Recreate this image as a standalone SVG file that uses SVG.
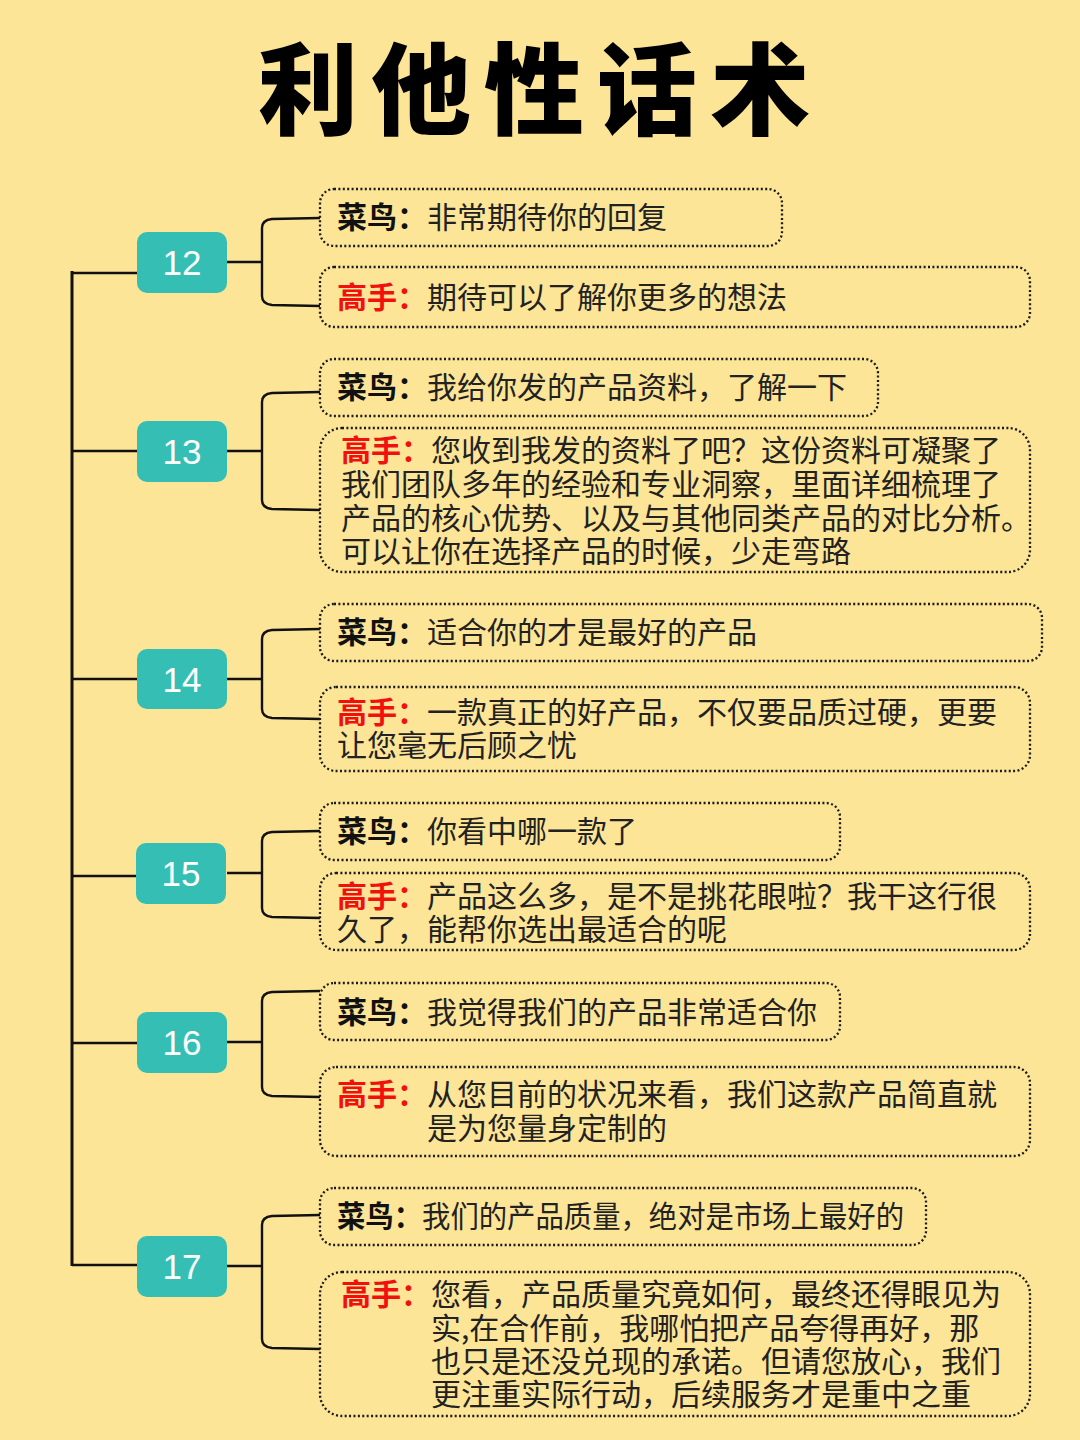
<svg xmlns="http://www.w3.org/2000/svg" width="1080" height="1440" viewBox="0 0 1080 1440">
<style>
.bg{fill:#FCE597}
.title{font-family:"Noto Sans CJK SC",sans-serif;font-size:100px;font-weight:900;fill:#000;letter-spacing:13px}
.num{fill:#35BFB4}
.numt{font-family:"Liberation Sans",Arial,sans-serif;font-size:35px;fill:#fff;text-anchor:middle}
.card{fill:none;stroke:#1a1a1a;stroke-width:2.3;stroke-dasharray:2 2.4;}
.txt{font-family:"Noto Sans CJK SC",sans-serif;font-size:30px;fill:#222}
.k{font-weight:700;fill:#111}
.r{font-weight:700;fill:#F01010}
.line{fill:none;stroke:#111;stroke-width:2.4}
.main{fill:none;stroke:#111;stroke-width:3}
</style>
<rect class="bg" x="0" y="0" width="1080" height="1440"/>
<text class="title" x="258" y="127">利他性话术</text>

<g id="connectors">
<path class="main" d="M72,271 V1266"/>
<path class="line" d="M72,273 H137 M227,262 H262 M320,218 L272,219 Q262,220 262,228 V296 Q262,304 272,305 L320,306"/>
<path class="line" d="M72,451 H137 M227,451 H262 M320,392 L272,393 Q262,394 262,402 V500 Q262,508 272,509 L320,510"/>
<path class="line" d="M72,679 H137 M227,679 H262 M320,629 L272,630 Q262,631 262,639 V709 Q262,717 272,718 L320,719"/>
<path class="line" d="M72,876 H137 M227,873 H262 M320,831 L272,832 Q262,833 262,841 V908 Q262,916 272,917 L320,918"/>
<path class="line" d="M72,1043 H137 M227,1042 H262 M320,991 L272,992 Q262,993 262,1001 V1087 Q262,1095 272,1096 L320,1097"/>
<path class="line" d="M72,1265 H137 M227,1266 H262 M320,1215 L272,1216 Q262,1217 262,1225 V1339 Q262,1347 272,1348 L320,1349"/>
</g>

<g id="n12">
<rect class="num" x="137" y="232" width="90" height="61" rx="10"/>
<text class="numt" x="182" y="275">12</text>
</g>
<g id="n12a">
<rect class="card" x="320" y="189" width="462" height="57" rx="14"/>
<text class="txt" x="337" y="228"><tspan class="k">菜鸟：</tspan>非常期待你的回复</text>
</g>
<g id="n12b">
<rect class="card" x="320" y="267" width="710" height="60" rx="14"/>
<text class="txt" x="337" y="308"><tspan class="r">高手：</tspan>期待可以了解你更多的想法</text>
</g>

<g id="n13">
<rect class="num" x="137" y="421" width="90" height="61" rx="10"/>
<text class="numt" x="182" y="464">13</text>
</g>
<g id="n13a">
<rect class="card" x="320" y="359" width="558" height="57" rx="14"/>
<text class="txt" x="337" y="398"><tspan class="k">菜鸟：</tspan>我给你发的产品资料，了解一下</text>
</g>
<g id="n13b">
<rect class="card" x="320" y="428" width="710" height="144" rx="22"/>
<text class="txt" x="341" y="461"><tspan class="r">高手：</tspan>您收到我发的资料了吧？这份资料可凝聚了</text>
<text class="txt" x="341" y="495">我们团队多年的经验和专业洞察，里面详细梳理了</text>
<text class="txt" x="341" y="529">产品的核心优势、以及与其他同类产品的对比分析。</text>
<text class="txt" x="341" y="562">可以让你在选择产品的时候，少走弯路</text>
</g>

<g id="n14">
<rect class="num" x="137" y="649" width="90" height="60" rx="10"/>
<text class="numt" x="182" y="692">14</text>
</g>
<g id="n14a">
<rect class="card" x="320" y="604" width="722" height="57" rx="14"/>
<text class="txt" x="337" y="643"><tspan class="k">菜鸟：</tspan>适合你的才是最好的产品</text>
</g>
<g id="n14b">
<rect class="card" x="320" y="687" width="710" height="84" rx="16"/>
<text class="txt" x="337" y="723"><tspan class="r">高手：</tspan>一款真正的好产品，不仅要品质过硬，更要</text>
<text class="txt" x="337" y="756">让您毫无后顾之忧</text>
</g>

<g id="n15">
<rect class="num" x="136" y="843" width="90" height="61" rx="10"/>
<text class="numt" x="181" y="886">15</text>
</g>
<g id="n15a">
<rect class="card" x="320" y="803" width="520" height="57" rx="14"/>
<text class="txt" x="337" y="842"><tspan class="k">菜鸟：</tspan>你看中哪一款了</text>
</g>
<g id="n15b">
<rect class="card" x="320" y="873" width="710" height="77" rx="16"/>
<text class="txt" x="337" y="907"><tspan class="r">高手：</tspan>产品这么多，是不是挑花眼啦？我干这行很</text>
<text class="txt" x="337" y="940">久了，能帮你选出最适合的呢</text>
</g>

<g id="n16">
<rect class="num" x="137" y="1012" width="90" height="61" rx="10"/>
<text class="numt" x="182" y="1055">16</text>
</g>
<g id="n16a">
<rect class="card" x="320" y="983" width="520" height="57" rx="14"/>
<text class="txt" x="337" y="1023"><tspan class="k">菜鸟：</tspan>我觉得我们的产品非常适合你</text>
</g>
<g id="n16b">
<rect class="card" x="320" y="1067" width="710" height="89" rx="16"/>
<text class="txt" x="337" y="1105"><tspan class="r">高手：</tspan>从您目前的状况来看，我们这款产品简直就</text>
<text class="txt" x="427" y="1139">是为您量身定制的</text>
</g>

<g id="n17">
<rect class="num" x="137" y="1236" width="90" height="61" rx="10"/>
<text class="numt" x="182" y="1279">17</text>
</g>
<g id="n17a">
<rect class="card" x="320" y="1188" width="606" height="57" rx="14"/>
<text class="txt" x="337" y="1227" textLength="567" lengthAdjust="spacingAndGlyphs"><tspan class="k">菜鸟：</tspan>我们的产品质量，绝对是市场上最好的</text>
</g>
<g id="n17b">
<rect class="card" x="320" y="1272" width="710" height="144" rx="22"/>
<text class="txt" x="341" y="1305"><tspan class="r">高手：</tspan>您看，产品质量究竟如何，最终还得眼见为</text>
<text class="txt" x="431" y="1339">实,在合作前，我哪怕把产品夸得再好，那</text>
<text class="txt" x="431" y="1372">也只是还没兑现的承诺。但请您放心，我们</text>
<text class="txt" x="431" y="1405">更注重实际行动，后续服务才是重中之重</text>
</g>
</svg>
